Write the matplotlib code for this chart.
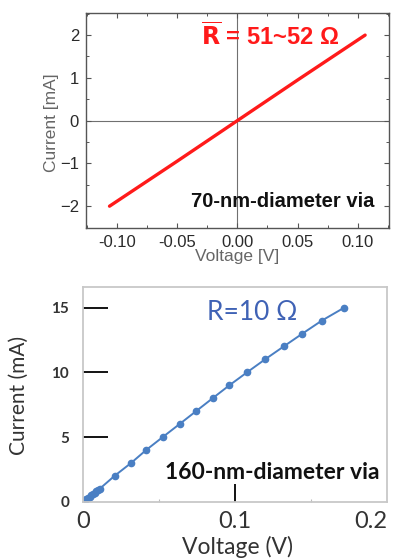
import matplotlib

matplotlib.use("Agg")
import matplotlib.pyplot as plt
from matplotlib.ticker import MultipleLocator

# top panel: 70-nm via sweep
v70 = [-0.106, -0.05, 0.0, 0.05, 0.106]
i70 = [-2.0, -0.95, 0.0, 0.95, 2.0]
x70_ticks = [-0.10, -0.05, 0.00, 0.05, 0.10]
y70_ticks = [-2, -1, 0, 1, 2]

# bottom panel: 160-nm via measured points
v160 = [0.0, 0.0011, 0.0022, 0.0033, 0.0044, 0.0055, 0.0066, 0.0077, 0.0088, 0.0099, 0.011,
        0.0208, 0.0317, 0.0416, 0.0525, 0.0635, 0.0744, 0.0853, 0.0963, 0.1079,
        0.1197, 0.132, 0.1444, 0.1571, 0.1718]
i160 = [0.0, 0.1, 0.2, 0.3, 0.4, 0.5, 0.6, 0.7, 0.8, 0.9, 1.0,
        2, 3, 4, 5, 6, 7, 8, 9, 10, 11, 12, 13, 14, 15]
x160_ticks = [0, 0.1, 0.2]
x160_labels = ["0", "0.1", "0.2"]
y160_ticks = [0, 5, 10, 15]

W, H = 393, 559
fig = plt.figure(figsize=(W / 100, H / 100), dpi=100)

# ---- top
ax = fig.add_axes([86 / W, 1 - 228 / H, (389 - 86) / W, (228 - 13.3) / H])
top_font = "Liberation Sans"
ax.plot(v70, i70, color="#ff1a1a", lw=2.4, solid_capstyle="round")
ax.axhline(0, color="#707070", lw=0.8, zorder=0)
ax.axvline(0, color="#707070", lw=0.8, zorder=0)
ax.set_xlim(-0.1255, 0.1258)
ax.set_ylim(-2.51, 2.51)
ax.set_xticks(x70_ticks)
ax.set_xticklabels([f"{t:.2f}" for t in x70_ticks])
ax.set_yticks(y70_ticks)
ax.xaxis.set_minor_locator(MultipleLocator(0.025))
ax.yaxis.set_minor_locator(MultipleLocator(0.5))
ax.tick_params(which="both", direction="in", top=True, right=True, color="#555555",
               labelcolor="#2a2a2a", labelsize=12, pad=5)
ax.tick_params(which="major", length=3.5, width=0.8)
ax.tick_params(which="minor", length=2, width=0.7)
for lab in ax.get_xticklabels() + ax.get_yticklabels():
    lab.set_fontfamily(top_font)
for s in ax.spines.values():
    s.set_color("#555555")
    s.set_linewidth(1.0)
ax.set_xlabel("Voltage [V]", fontsize=12.5, color="#666666", family=top_font)
ax.set_ylabel("Current [mA]", fontsize=12.5, color="#666666", family=top_font)
ax.xaxis.set_label_coords(0.5, -0.135)
ax.xaxis.label.set_va("center")
ax.yaxis.set_label_coords(-0.115, 0.49)
ax.yaxis.label.set_va("center")
ax.text(0.027, 1.97, r"$\overline{\mathbf{R}}$ = 51~52 Ω", color="#ff1a1a", fontsize=17,
        fontweight="bold", family=top_font, ha="center", va="center")
ax.text(0.038, -1.88, "70-nm-diameter via", color="#111111", fontsize=14.5,
        fontweight="bold", family=top_font, ha="center", va="center")

# ---- bottom
bx = fig.add_axes([83 / W, 1 - 501.7 / H, (387 - 83) / W, (501.7 - 287) / H])
bot_font = "Lato"
blue = "#4a7fc3"
bx.plot(v160, i160, color=blue, lw=1.4, marker="o", ms=4.5, mec=blue, mfc=blue)
bx.set_xlim(0, 0.2)
bx.set_ylim(0, 16.6)
bx.set_xticks(x160_ticks)
bx.set_xticklabels(x160_labels)
bx.set_yticks(y160_ticks)
bx.xaxis.set_minor_locator(MultipleLocator(0.05))
bx.tick_params(axis="y", direction="in", length=18, width=1.3, color="black",
               labelsize=11, labelcolor="#333333", pad=10)
bx.tick_params(axis="x", direction="in", length=13, width=1.3, color="black",
               labelsize=17, labelcolor="#333333", pad=7)
bx.tick_params(axis="x", which="minor", direction="in", length=2, width=0.8, color="#bbbbbb")
for t in (bx.xaxis.get_major_ticks()[0], bx.xaxis.get_major_ticks()[-1], bx.yaxis.get_major_ticks()[0]):
    t.tick1line.set_visible(False)
for lab in bx.get_xticklabels() + bx.get_yticklabels():
    lab.set_fontfamily(bot_font)
for lab in bx.get_yticklabels():
    lab.set_fontweight("bold")
bx.get_xticklabels()[-1].set_ha("right")
for s in bx.spines.values():
    s.set_color("#c8c8c8")
    s.set_linewidth(1.3)
bx.set_xlabel("Voltage (V)", fontsize=16.5, color="#333333", family=bot_font)
bx.set_ylabel("Current (mA)", fontsize=15, color="#333333", family=bot_font)
bx.xaxis.set_label_coords(0.507, -0.211)
bx.xaxis.label.set_va("center")
bx.yaxis.set_label_coords(-0.2105, 0.497)
bx.yaxis.label.set_va("center")
bx.text(0.111, 14.6, "R=10 Ω", color="#3f62b5", fontsize=19, family=bot_font,
        ha="center", va="center")
bx.text(0.1243, 2.22, "160-nm-diameter via", color="#111111", fontsize=16.5,
        fontweight="bold", family=bot_font, ha="center", va="center")

fig.savefig("out.png", dpi=100)
